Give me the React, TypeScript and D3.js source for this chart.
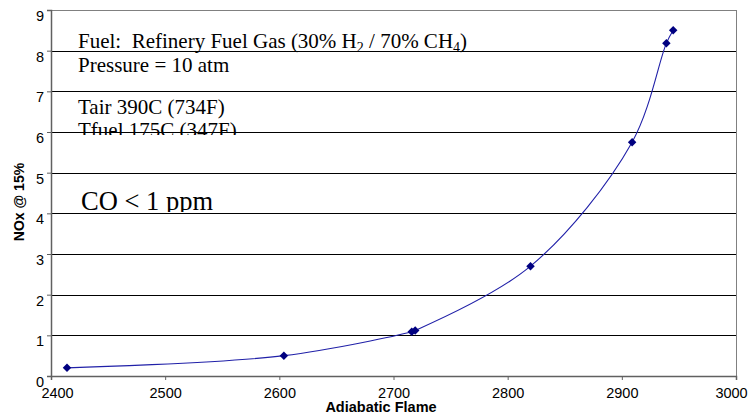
import React, { useEffect, useRef } from "react";
import * as d3 from "d3";

// adiabatic flame temperature (F) vs NOx @ 15% O2
const flameTemps = [2414, 2604, 2716, 2719, 2820, 2909, 2939, 2945];
const noxValues = [0.2, 0.5, 1.09, 1.12, 2.7, 5.75, 8.18, 8.5];
const xTicks = [2400, 2500, 2600, 2700, 2800, 2900, 3000];
const yTicks = [0, 1, 2, 3, 4, 5, 6, 7, 8, 9];

const App = () => {
  const ref = useRef<SVGSVGElement>(null);

  useEffect(() => {
    drawChart();
  }, []);

  const drawChart = () => {
    const svg = d3.select(ref.current);
    svg.selectAll("*").remove();

    const width = 750;
    const height = 417;
    const margin = { top: 10, right: 14, bottom: 41, left: 51 };
    const plotW = width - margin.left - margin.right;
    const plotH = height - margin.top - margin.bottom;

    const x = d3.scaleLinear().domain([2400, 3000]).range([0, plotW]);
    const y = d3.scaleLinear().domain([0, 9]).range([plotH, 0]);

    svg.attr("width", width).attr("height", height);

    const defs = svg.append("defs");
    defs.append("clipPath").attr("id", "clip-tfuel")
      .append("rect").attr("x", 0).attr("y", 0).attr("width", width).attr("height", 135);
    defs.append("clipPath").attr("id", "clip-co")
      .append("rect").attr("x", 0).attr("y", 0).attr("width", width).attr("height", 212);

    // annotations (Times)
    const note = svg.append("g")
      .attr("font-family", "'Liberation Serif', 'Times New Roman', serif")
      .attr("fill", "#000");

    const fuel = note.append("text").attr("x", 78).attr("y", 48).attr("font-size", 21);
    fuel.append("tspan").text("Fuel:\u00a0 Refinery Fuel Gas (30% H");
    fuel.append("tspan").attr("font-size", 14).attr("dy", 4).text("2");
    fuel.append("tspan").attr("dy", -4).text(" / 70% CH");
    fuel.append("tspan").attr("font-size", 14).attr("dy", 4).text("4");
    fuel.append("tspan").attr("dy", -4).text(")");

    note.append("text").attr("x", 78).attr("y", 72).attr("font-size", 21).text("Pressure = 10 atm");
    note.append("text").attr("x", 78).attr("y", 114).attr("font-size", 21).text("Tair 390C (734F)");
    note.append("text").attr("x", 78).attr("y", 137).attr("font-size", 21)
      .attr("clip-path", "url(#clip-tfuel)").text("Tfuel 175C (347F)");
    note.append("text").attr("x", 81).attr("y", 210).attr("font-size", 26.5)
      .attr("clip-path", "url(#clip-co)").text("CO < 1 ppm");

    const chart = svg.append("g").attr("transform", `translate(${margin.left},${margin.top})`);

    // gridlines
    chart.append("g")
      .selectAll("line")
      .data(yTicks.filter((t) => t > 0 && t < 9))
      .join("line")
      .attr("x1", 0)
      .attr("x2", plotW)
      .attr("y1", (d) => Math.round(y(d)) + 0.5)
      .attr("y2", (d) => Math.round(y(d)) + 0.5)
      .attr("stroke", "#000")
      .attr("stroke-width", 1);

    // frame
    chart.append("rect")
      .attr("x", 0.5).attr("y", 0.5)
      .attr("width", plotW).attr("height", plotH)
      .attr("fill", "none").attr("stroke", "#808080");

    // axes
    const yAxis = chart.append("g")
      .call(d3.axisLeft(y).tickValues(yTicks).tickSize(4).tickPadding(3).tickFormat(d3.format("d")));
    const xAxis = chart.append("g")
      .attr("transform", `translate(0,${plotH})`)
      .call(d3.axisBottom(x).tickValues(xTicks).tickSize(4).tickPadding(8).tickFormat(d3.format("d")));

    [yAxis, xAxis].forEach((ax) => {
      ax.select(".domain").attr("stroke", "#606060").attr("stroke-width", 1.5);
      ax.selectAll(".tick line").attr("stroke", "#606060");
      ax.selectAll("text")
        .attr("font-family", "'Liberation Sans', Arial, sans-serif")
        .attr("font-size", 14.5)
        .attr("fill", "#000");
    });
    yAxis.selectAll("text").attr("dy", "0.72em");
    xAxis.selectAll("text")
      .attr("dy", "0.72em")
      // end labels are nudged inwards like the original
      .attr("dx", (d) => (d === 2400 ? 6 : d === 3000 ? -5 : 0));

    // curve
    const pts = flameTemps.map((t, i) => [t, noxValues[i]] as [number, number]);
    const line = d3.line<[number, number]>()
      .x((d) => x(d[0]))
      .y((d) => y(d[1]))
      .curve(d3.curveCatmullRom.alpha(0.5));

    chart.append("path")
      .datum(pts)
      .attr("d", line)
      .attr("fill", "none")
      .attr("stroke", "#2020a8")
      .attr("stroke-width", 1.1);

    // diamond markers: rotated squares
    chart.append("g")
      .selectAll("path")
      .data(pts)
      .join("path")
      .attr("transform", (d) => `translate(${x(d[0])},${y(d[1])}) rotate(45)`)
      .attr("d", d3.symbol().type(d3.symbolSquare).size(36)())
      .attr("fill", "#000080");

    // axis titles
    svg.append("text")
      .attr("x", 381)
      .attr("y", 412)
      .attr("text-anchor", "middle")
      .attr("font-family", "'Liberation Sans', Arial, sans-serif")
      .attr("font-weight", "bold")
      .attr("font-size", 14.5)
      .text("Adiabatic Flame");

    svg.append("text")
      .attr("transform", "translate(24,202) rotate(-90)")
      .attr("text-anchor", "middle")
      .attr("font-family", "'Liberation Sans', Arial, sans-serif")
      .attr("font-weight", "bold")
      .attr("font-size", 14)
      .text("NOx @ 15%");
  };

  return (
    <svg ref={ref} style={{ position: "absolute", left: 0, top: 0, background: "#fff" }}></svg>
  );
};

export default App;
